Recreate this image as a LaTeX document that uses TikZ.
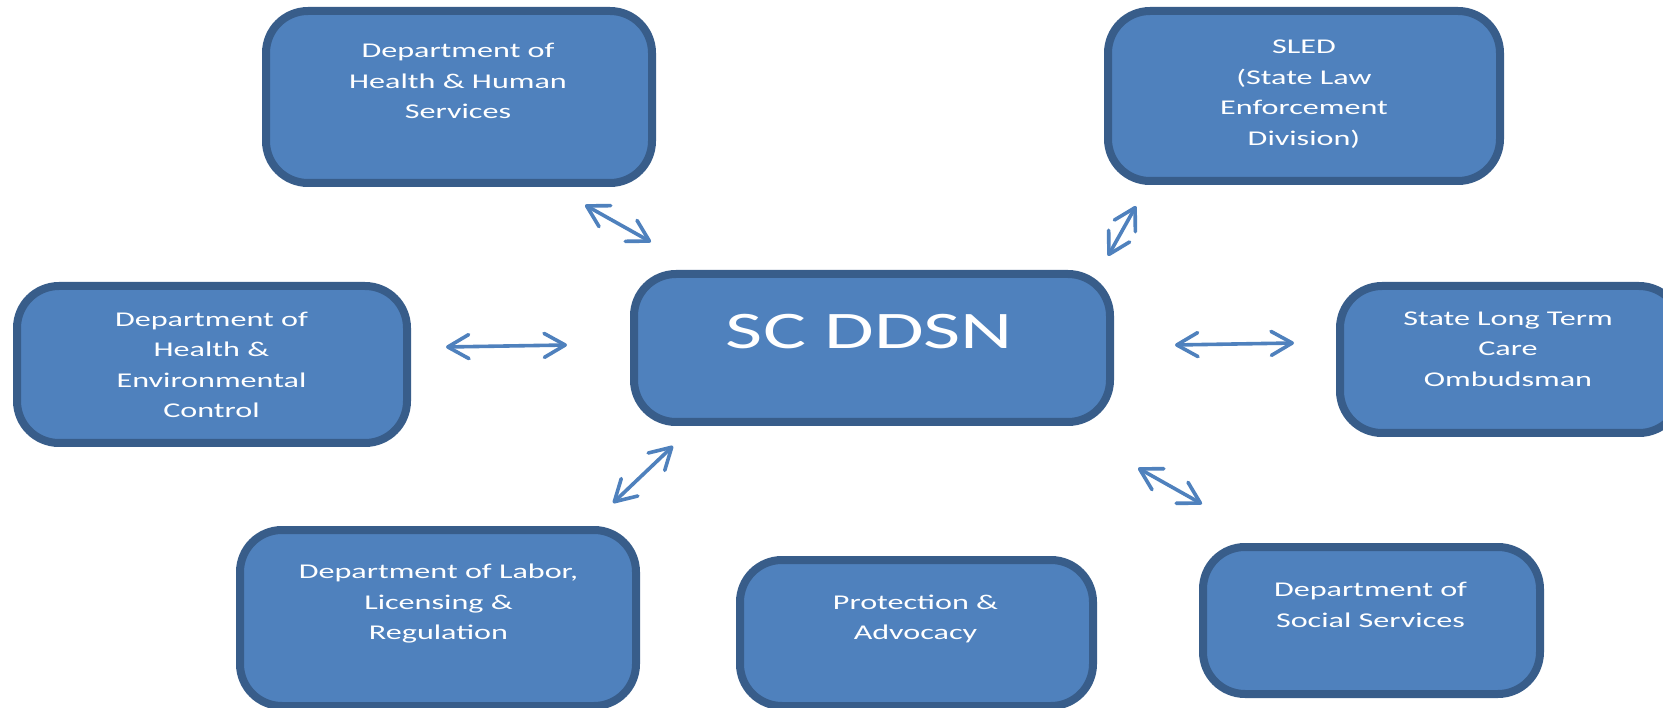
\documentclass[tikz,border=0pt]{standalone}
\usepackage{fontspec}
\setmainfont[FakeStretch=1.53]{Carlito}
\usetikzlibrary{arrows.meta}
\definecolor{boxfill}{HTML}{4F81BD}
\definecolor{boxline}{HTML}{385D8A}
\definecolor{linkblue}{HTML}{4F81BD}
\tikzset{
  agency/.style={draw=boxline, fill=boxfill, line width=8pt, rounded corners=42pt, inner sep=0pt},
  agencytext/.style={text=white, align=center, inner sep=0pt, font=\fontsize{21}{30.5}\selectfont},
  link/.style={draw=linkblue, line width=3.6pt, line cap=round,
    {Straight Barb[length=21pt,width=24pt,round]}-{Straight Barb[length=21pt,width=24pt,round]}}
}
\begin{document}
\begin{tikzpicture}[x=1pt,y=-1pt]
\useasboundingbox (0,0) rectangle (1663,708);
\clip (0,0) rectangle (1663,708);
\fill[white] (0,0) rectangle (1663,708);

% boxes
\node[agency, minimum width=476pt, minimum height=148pt] (ddsn) at (872,348) {};
\node[agency, minimum width=386pt, minimum height=172pt] (dhhs) at (459,97) {};
\node[agency, minimum width=392pt, minimum height=170pt] (sled) at (1304,96) {};
\node[agency, minimum width=390pt, minimum height=157pt] (dhec) at (212,364.5) {};
\node[agency, minimum width=341pt, minimum height=147pt] (ltc) at (1510.5,359.5) {};
\node[agency, minimum width=396pt, minimum height=176pt] (llr) at (438,618) {};
\node[agency, minimum width=353pt, minimum height=146pt] (pa) at (916.5,633) {};
\node[agency, minimum width=337pt, minimum height=147pt] (dss) at (1371.5,620.5) {};

% texts
\node[agencytext, font=\fontsize{52.8}{60}\selectfont, anchor=base] (ddsntext) at (869.5,349) {SC DDSN};
\node[agencytext] (dhhstext) at (458,81) {Department of\\Health \& Human\\Services};
\node[agencytext] (sledtext) at (1304,94) {SLED\\(State Law\\Enforcement\\Division)};
\node[agencytext] (dhectext) at (211.5,365) {Department of\\Health \&\\Environmental\\Control};
\node[agencytext] (ltctext) at (1508,349) {State Long Term\\Care\\Ombudsman};
\node[agencytext] (llrtext) at (438.5,604) {Department of Labor,\\Licensing \&\\Regulation};
\node[agencytext] (patext) at (915.5,619) {Protection \&\\Advocacy};
\node[agencytext] (dsstext) at (1370.5,605) {Department of\\Social Services};

% arrows
\coordinate (dhhsend) at (585,205);
\coordinate (dhhsddsn) at (651,242);
\coordinate (sledend) at (1136,206);
\coordinate (sledddsn) at (1108,256);
\coordinate (dhecend) at (446,347);
\coordinate (dhecddsn) at (567,345);
\coordinate (ltcddsn) at (1175,345);
\coordinate (ltcend) at (1294,343);
\coordinate (llrddsn) at (673,446);
\coordinate (llrend) at (613,503);
\coordinate (dssddsn) at (1138,468);
\coordinate (dssend) at (1202,504);
\draw[link] (dhhsend) -- (dhhsddsn);
\draw[link] (sledend) -- (sledddsn);
\draw[link] (dhecend) -- (dhecddsn);
\draw[link] (ltcddsn) -- (ltcend);
\draw[link] (llrddsn) -- (llrend);
\draw[link] (dssddsn) -- (dssend);
\end{tikzpicture}
\end{document}
